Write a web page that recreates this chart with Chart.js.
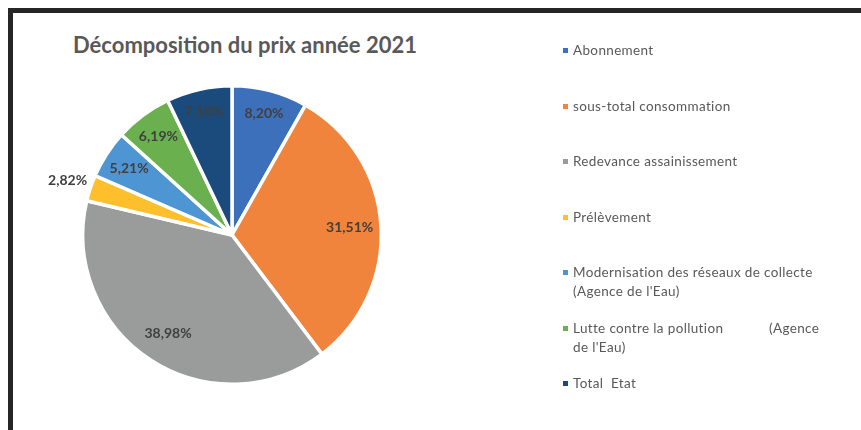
<!DOCTYPE html>
<html>
<head>
<meta charset="utf-8">
<script src="https://cdn.jsdelivr.net/npm/chart.js@4.4.1/dist/chart.umd.min.js"></script>
<style>
  html, body { margin: 0; padding: 0; background: #fff; }
  #wrap { position: relative; width: 861px; height: 430px; overflow: hidden; background: #fff; }
  #frame { position: absolute; left: 8px; top: 8px; width: 900px; height: 500px;
           border-top: 5px solid #262626; border-left: 5px solid #262626; box-sizing: border-box; }
  #title { position: absolute; left: 0; width: 490px; top: 31px; text-align: center;
           font-family: Lato, sans-serif; font-weight: bold; font-size: 22px; color: #595959; }
  canvas { position: absolute; left: 0; top: 0; }
  #legend { position: absolute; left: 0; top: 0; width: 861px; height: 430px; pointer-events: none; }
  .item { position: absolute; left: 563px; width: 268px; font-family: Lato, sans-serif;
          font-size: 13.5px; letter-spacing: 0.35px; line-height: 19px; color: #595959; white-space: pre-wrap; }
  .item .sw { position: absolute; left: 0; top: 7px; width: 5px; height: 5px; }
  .item .tx { display: block; margin-left: 10px; }
</style>
</head>
<body>
<div id="wrap">
  <div id="frame"></div>
  <div id="title">Décomposition du prix année 2021</div>
  <canvas id="c" width="861" height="430"></canvas>
  <div id="legend"></div>
</div>
<script>
const categories = [
  "Abonnement",
  "sous-total consommation",
  "Redevance assainissement",
  "Prélèvement",
  "Modernisation des réseaux de collecte (Agence de l'Eau)",
  "Lutte contre la pollution            (Agence de l'Eau)",
  "Total  Etat"
];
const values = [8.20, 31.51, 38.98, 2.82, 5.21, 6.19, 7.10];
const colors = ["#3d70ba", "#f1843c", "#9a9c9c", "#fdbf2b", "#4e96d3", "#6bb04f", "#1b4a7d"];

const labelPlugin = {
  id: 'sliceLabels',
  afterDatasetsDraw(chart, args, opts) {
    const ctx = chart.ctx;
    const meta = chart.getDatasetMeta(0);
    ctx.save();
    ctx.font = 'bold 14px Lato, sans-serif';
    ctx.fillStyle = '#404040';
    ctx.textAlign = 'center';
    ctx.textBaseline = 'middle';
    meta.data.forEach((arc, i) => {
      const p = arc.getProps(['x', 'y', 'startAngle', 'endAngle', 'outerRadius'], true);
      const mid = (p.startAngle + p.endAngle) / 2;
      const r = p.outerRadius * opts.radius[i];
      const x = p.x + Math.cos(mid) * r;
      const y = p.y + Math.sin(mid) * r;
      const txt = values[i].toFixed(2).replace('.', ',') + '%';
      ctx.fillText(txt, x, y);
    });
    ctx.restore();
  }
};

new Chart(document.getElementById('c'), {
  type: 'pie',
  data: {
    labels: categories,
    datasets: [{
      data: values,
      backgroundColor: colors,
      borderColor: '#ffffff',
      borderWidth: 3.5
    }]
  },
  options: {
    responsive: false,
    animation: false,
    layout: { padding: { left: 81, top: 84, right: 478, bottom: 44 } },
    plugins: {
      legend: { display: false },
      tooltip: { enabled: false },
      title: { display: false },
      sliceLabels: { radius: [0.84, 0.79, 0.785, 1.16, 0.82, 0.825, 0.85] }
    }
  },
  plugins: [labelPlugin]
});

const legend = document.getElementById('legend');
categories.forEach((name, i) => {
  const d = document.createElement('div');
  d.className = 'item';
  d.style.top = (41 + i * 55.5) + 'px';
  const sw = document.createElement('span');
  sw.className = 'sw';
  sw.style.background = colors[i];
  const tx = document.createElement('span');
  tx.className = 'tx';
  tx.textContent = name;
  d.appendChild(sw);
  d.appendChild(tx);
  legend.appendChild(d);
});
</script>
</body>
</html>
